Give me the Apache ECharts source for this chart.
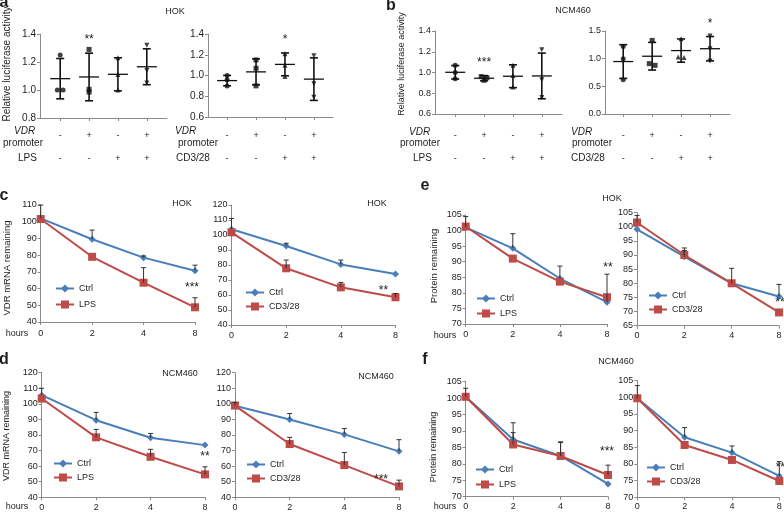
<!DOCTYPE html>
<html><head><meta charset="utf-8">
<script src="https://cdn.jsdelivr.net/npm/echarts@6/dist/echarts.min.js"></script>
<style>html,body{margin:0;padding:0;background:#fff}#c{width:784px;height:512px}</style>
</head><body><div id="c"></div><script>
// ---------- data ----------
const dotGroups = [0, 1, 2, 3];
const vdrSigns = ['-', '+', '-', '+'];
const stimSigns = ['-', '-', '+', '+'];

// a: HOK luciferase (LPS / CD3/28)
const aLpsPts = [[1.25, 1.0, 1.0], [1.29, 1.005, 0.985], [1.23, 1.11, 1.0], [1.32, 1.14, 1.05]];
const aLpsMean = [1.081, 1.093, 1.112, 1.166];
const aLpsSd = [0.144, 0.17, 0.118, 0.128];
const aLpsStars = ['', '**', '', ''];
const aCdPts = [[1.0, 0.96, 0.9], [1.15, 1.07, 0.9], [1.21, 1.1, 0.99], [1.19, 0.92, 0.79]];
const aCdMean = [0.951, 1.035, 1.107, 0.965];
const aCdSd = [0.05, 0.125, 0.11, 0.205];
const aCdStars = ['', '', '*', ''];
// b: NCM460 luciferase
const bLpsPts = [[1.07, 1.0, 0.94], [0.96, 0.95, 0.925], [1.07, 0.97, 0.86], [1.22, 0.93, 0.76]];
const bLpsMean = [1.002, 0.945, 0.964, 0.967];
const bLpsSd = [0.065, 0.025, 0.11, 0.22];
const bLpsStars = ['', '***', '', ''];
const bCdPts = [[1.22, 1.0, 0.62], [1.33, 0.91, 0.88], [1.36, 1.03, 1.02], [1.41, 1.18, 0.96]];
const bCdMean = [0.948, 1.044, 1.146, 1.18];
const bCdSd = [0.305, 0.25, 0.21, 0.22];
const bCdStars = ['', '', '', '*'];

const hours = ['0', '2', '4', '8'];
// c: HOK VDR mRNA
const cLpsCtrl = [102, 89.5, 78.5, 70.7];
const cLpsCtrlHi = [110, 95, 79.5, 74];
const cLps = [101.6, 79, 63.5, 48.8];
const cLpsHi = [null, null, 72.5, 54.5];
const cCdCtrl = [103.8, 92.7, 80.4, 74];
const cCdCtrlHi = [111, 94.5, 83.3, null];
const cCd = [101.8, 77.8, 65.1, 58.5];
const cCdHi = [null, 83.3, 68.4, 61];
// d: NCM460 VDR mRNA
const dLpsCtrl = [105.6, 89.5, 78.2, 73.5];
const dLpsCtrlHi = [110, 94.5, 81, null];
const dLps = [103.4, 78.5, 66, 54.7];
const dLpsHi = [null, 83.6, 70.8, 59.6];
const dCdCtrl = [98.8, 90, 80.4, 69.5];
const dCdCtrlHi = [101, 93.8, 84.2, 77];
const dCd = [98.9, 74.2, 60.7, 47];
const dCdHi = [null, 78.5, 68.8, 51];
// e: HOK protein
const eLpsCtrl = [101, 94.3, 84.6, 77];
const eLpsCtrlHi = [104.5, 99, 88.6, 86];
const eLps = [101.3, 91, 83.6, 78.6];
const eLpsHi = [null, null, null, null];
const eCdCtrl = [99.1, 89.4, 80, 75.3];
const eCdCtrlHi = [null, 91.6, 85.3, 79.6];
const eCd = [101.5, 90, 80, 69.7];
const eCdHi = [104, 92.5, null, null];
// f: NCM460 protein
const fLpsCtrl = [100.4, 87.4, 82.4, 73.9];
const fLpsCtrlHi = [103, 92.5, 86.7, null];
const fLps = [100.4, 85.9, 82.4, 76.6];
const fLpsHi = [null, 89.5, 86.5, 79.6];
const fCdCtrl = [99.7, 88, 83.4, 76.4];
const fCdCtrlHi = [103.5, 90.9, 85.4, 80.7];
const fCd = [99.7, 85.7, 81.2, 74.9];
const fCdHi = [null, null, null, null];

// ---------- drawing ----------
const FONT = 'Liberation Sans, Arial, sans-serif';
const TXT = '#1e1e1e', AX = '#8a8a8a', BLUE = '#4a7ebb', RED = '#be4b48';
const SHAPES = ['circle', 'rect', 'triangle', 'path://M0,0L10,0L5,9Z'];
const grids = [], xAxes = [], yAxes = [], series = [], legends = [], graphics = [];

function jitter(g, tol) {
  const off = g.map(() => 0);
  for (let i = 0; i < g.length; i++) for (let j = i + 1; j < g.length; j++)
    if (Math.abs(g[i] - g[j]) < tol && off[i] === 0 && off[j] === 0) { off[i] = -0.1; off[j] = 0.1; }
  return off;
}

function addDot(o) {
  const gi = grids.length;
  grids.push({ left: o.left, top: o.top, width: o.width, height: o.height, outerBoundsMode: 'none' });
  xAxes.push({ gridIndex: gi, type: 'value', min: o.xmin, max: o.xmax, splitLine: { show: false },
    axisLine: { show: true, onZero: false, lineStyle: { color: AX } },
    axisTick: { show: true, length: 3, customValues: dotGroups, lineStyle: { color: AX } },
    axisLabel: { customValues: dotGroups, fontSize: 9, color: TXT, fontFamily: FONT, lineHeight: 23, margin: o.lm,
      formatter: v => { const i = Math.round(v); return vdrSigns[i] + '\n' + stimSigns[i]; } } });
  yAxes.push({ gridIndex: gi, type: 'value', min: o.ymin, max: o.ymax, interval: o.int, splitLine: { show: false },
    axisLine: { show: true, onZero: false, lineStyle: { color: AX } },
    axisTick: { show: true, length: 3, lineStyle: { color: AX } },
    axisLabel: { fontSize: o.fs, color: TXT, fontFamily: FONT, margin: 4, formatter: v => v.toFixed(1) } });
  const pts = [];
  o.pts.forEach((g, k) => { const off = jitter(g, (o.ymax - o.ymin) * 0.03); g.forEach((v, m) => pts.push([k + off[m], v, k])); });
  series.push({ type: 'scatter', xAxisIndex: gi, yAxisIndex: gi, data: pts, symbol: val => SHAPES[val[2]],
    symbolSize: 5, itemStyle: { color: '#111' }, z: 3, silent: true });
  const bars = o.mean.map((m, i) => [i, m, o.sd[i]]);
  series.push({ type: 'custom', xAxisIndex: gi, yAxisIndex: gi, data: bars, z: 4, silent: true, encode: { x: 0, y: 1 },
    renderItem: (p, api) => {
      const x = api.value(0), m = api.value(1), s = api.value(2);
      const pm = api.coord([x, m]), ph = api.coord([x, m + s]), pl = api.coord([x, m - s]);
      const st = { stroke: '#111', lineWidth: 1.6 };
      return { type: 'group', children: [
        { type: 'line', shape: { x1: pm[0] - 10, y1: pm[1], x2: pm[0] + 10, y2: pm[1] }, style: { stroke: '#111', lineWidth: 1.3 } },
        { type: 'line', shape: { x1: ph[0], y1: ph[1], x2: pl[0], y2: pl[1] }, style: st },
        { type: 'line', shape: { x1: ph[0] - 4, y1: ph[1], x2: ph[0] + 4, y2: ph[1] }, style: st },
        { type: 'line', shape: { x1: pl[0] - 4, y1: pl[1], x2: pl[0] + 4, y2: pl[1] }, style: st },
        { type: 'text', x: ph[0], y: ph[1] - 13, style: { text: o.stars[p.dataIndex], fill: '#222', font: '12px ' + FONT, align: 'center', verticalAlign: 'middle' } }
      ] };
    } });
}

function addLine(o) {
  const gi = grids.length;
  grids.push({ left: o.left, top: o.top, width: o.width, height: o.height, outerBoundsMode: 'none' });
  xAxes.push({ gridIndex: gi, type: 'category', data: hours, boundaryGap: false, splitLine: { show: false },
    axisLine: { show: true, lineStyle: { color: AX } },
    axisTick: { show: true, length: 3, lineStyle: { color: AX } },
    axisLabel: { fontSize: 9, color: TXT, fontFamily: FONT, margin: o.xm } });
  yAxes.push({ gridIndex: gi, type: 'value', min: o.ymin, max: o.ymax, interval: o.int, splitLine: { show: false },
    axisLine: { show: true, lineStyle: { color: AX } },
    axisTick: { show: true, length: 3, lineStyle: { color: AX } },
    axisLabel: { fontSize: 9, color: TXT, fontFamily: FONT, margin: 4 } });
  series.push({ type: 'line', name: 'Ctrl', xAxisIndex: gi, yAxisIndex: gi, data: o.ctrl, symbol: 'diamond', symbolSize: 7,
    itemStyle: { color: BLUE }, lineStyle: { color: BLUE, width: 2 }, z: 3, silent: true });
  series.push({ type: 'line', name: o.trtName, xAxisIndex: gi, yAxisIndex: gi, data: o.trt, symbol: 'rect', symbolSize: 8,
    itemStyle: { color: RED }, lineStyle: { color: RED, width: 2 }, z: 3, silent: true });
  const err = [];
  [[o.ctrl, o.ctrlHi], [o.trt, o.trtHi]].forEach(([arr, hi]) => arr.forEach((v, i) => { if (hi[i] != null) err.push([i, v, hi[i]]); }));
  series.push({ type: 'custom', xAxisIndex: gi, yAxisIndex: gi, data: err, z: 4, silent: true, encode: { x: 0, y: 1 },
    renderItem: (p, api) => {
      const a = api.coord([api.value(0), api.value(1)]), b = api.coord([api.value(0), api.value(2)]);
      const st = { stroke: '#333', lineWidth: 1 };
      return { type: 'group', children: [
        { type: 'line', shape: { x1: a[0], y1: a[1], x2: b[0], y2: b[1] }, style: st },
        { type: 'line', shape: { x1: b[0] - 2.5, y1: b[1], x2: b[0] + 2.5, y2: b[1] }, style: st }] };
    } });
  series.push({ type: 'custom', xAxisIndex: gi, yAxisIndex: gi, data: [[3, o.starVal]], z: 5, silent: true, encode: { x: 0, y: 1 },
    renderItem: (p, api) => {
      const c = api.coord([api.value(0), api.value(1)]);
      return { type: 'text', x: c[0] + o.starDx, y: c[1], style: { text: o.star, fill: '#222', font: '12px ' + FONT, align: 'center', verticalAlign: 'middle' } };
    } });
  legends.push({ left: o.lgLeft - 2, top: o.lgTop, orient: 'vertical', itemWidth: 18, itemHeight: 10, itemGap: o.lgGap, padding: 0,
    data: ['Ctrl', o.trtName], selectedMode: false, textStyle: { fontSize: 9, color: TXT, fontFamily: FONT } });
}

function txt(x, y, text, opt) {
  opt = opt || {};
  graphics.push({ type: 'text', x: x, y: y, rotation: opt.rot || 0, silent: true,
    style: { text: text, fill: TXT, align: opt.align || 'center', verticalAlign: 'middle',
      font: (opt.italic ? 'italic ' : '') + (opt.bold ? 'bold ' : '') + (opt.size || 9) + 'px ' + FONT } });
}

// dot plots
addDot({ left: 40, top: 34, width: 127, height: 84, xmin: -0.7, xmax: 3.7, ymin: 0.8, ymax: 1.4, int: 0.2, fs: 10, lm: 6.5,
  pts: aLpsPts, mean: aLpsMean, sd: aLpsSd, stars: aLpsStars });
addDot({ left: 208, top: 34, width: 125, height: 83, xmin: -0.66, xmax: 3.66, ymin: 0.6, ymax: 1.4, int: 0.2, fs: 10, lm: 7,
  pts: aCdPts, mean: aCdMean, sd: aCdSd, stars: aCdStars });
addDot({ left: 435, top: 31, width: 127, height: 83, xmin: -0.7, xmax: 3.7, ymin: 0.6, ymax: 1.4, int: 0.2, fs: 9, lm: 10.5,
  pts: bLpsPts, mean: bLpsMean, sd: bLpsSd, stars: bLpsStars });
addDot({ left: 605, top: 31, width: 125, height: 83, xmin: -0.63, xmax: 3.69, ymin: 0, ymax: 1.5, int: 0.5, fs: 9, lm: 10.5,
  pts: bCdPts, mean: bCdMean, sd: bCdSd, stars: bCdStars });

// line charts
addLine({ left: 40.7, top: 205, width: 154.3, height: 117, ymin: 40, ymax: 110, int: 10, xm: 7,
  ctrl: cLpsCtrl, ctrlHi: cLpsCtrlHi, trt: cLps, trtHi: cLpsHi, trtName: 'LPS', star: '***', starVal: 60.8, starDx: -3,
  lgLeft: 57, lgTop: 284, lgGap: 7 });
addLine({ left: 231.5, top: 205, width: 164, height: 120, ymin: 40, ymax: 120, int: 10, xm: 6,
  ctrl: cCdCtrl, ctrlHi: cCdCtrlHi, trt: cCd, trtHi: cCdHi, trtName: 'CD3/28', star: '**', starVal: 63, starDx: -12,
  lgLeft: 247, lgTop: 288, lgGap: 5 });
addLine({ left: 41.7, top: 372.7, width: 163.3, height: 124.6, ymin: 40, ymax: 120, int: 10, xm: 5.5,
  ctrl: dLpsCtrl, ctrlHi: dLpsCtrlHi, trt: dLps, trtHi: dLpsHi, trtName: 'LPS', star: '**', starVal: 65.8, starDx: 0,
  lgLeft: 55, lgTop: 459, lgGap: 5 });
addLine({ left: 235, top: 372.7, width: 164, height: 124.6, ymin: 40, ymax: 120, int: 10, xm: 5.5,
  ctrl: dCdCtrl, ctrlHi: dCdCtrlHi, trt: dCd, trtHi: dCdHi, trtName: 'CD3/28', star: '***', starVal: 51, starDx: -18,
  lgLeft: 248, lgTop: 460, lgGap: 5 });
addLine({ left: 465.7, top: 215, width: 141.3, height: 109, ymin: 70, ymax: 105, int: 5, xm: 6.5,
  ctrl: eLpsCtrl, ctrlHi: eLpsCtrlHi, trt: eLps, trtHi: eLpsHi, trtName: 'LPS', star: '**', starVal: 88, starDx: 1,
  lgLeft: 478, lgTop: 294, lgGap: 6 });
addLine({ left: 637, top: 212.6, width: 142, height: 113.1, ymin: 65, ymax: 105, int: 5, xm: 5,
  ctrl: eCdCtrl, ctrlHi: eCdCtrlHi, trt: eCd, trtHi: eCdHi, trtName: 'CD3/28', star: '**', starVal: 73, starDx: 1,
  lgLeft: 650, lgTop: 291, lgGap: 5 });
addLine({ left: 465.7, top: 381.7, width: 142.3, height: 115, ymin: 70, ymax: 105, int: 5, xm: 5,
  ctrl: fLpsCtrl, ctrlHi: fLpsCtrlHi, trt: fLps, trtHi: fLpsHi, trtName: 'LPS', star: '***', starVal: 83.6, starDx: -1,
  lgLeft: 477, lgTop: 465, lgGap: 6 });
addLine({ left: 637.3, top: 380.6, width: 142, height: 116.7, ymin: 70, ymax: 105, int: 5, xm: 5,
  ctrl: fCdCtrl, ctrlHi: fCdCtrlHi, trt: fCd, trtHi: fCdHi, trtName: 'CD3/28', star: '**', starVal: 78.8, starDx: 1,
  lgLeft: 648, lgTop: 463, lgGap: 5 });

// panel letters
txt(4, 3, 'a', { bold: true, size: 16 });
txt(391, 6, 'b', { bold: true, size: 16 });
txt(4, 196, 'c', { bold: true, size: 16 });
txt(4, 360, 'd', { bold: true, size: 16 });
txt(425, 186, 'e', { bold: true, size: 16 });
txt(425, 360, 'f', { bold: true, size: 16 });
// titles
txt(175, 12, 'HOK');
txt(573, 11, 'NCM460');
txt(182, 204, 'HOK');
txt(377, 204, 'HOK');
txt(180, 374, 'NCM460');
txt(376, 377, 'NCM460');
txt(612, 199, 'HOK');
txt(616, 362, 'NCM460');
// axis titles
txt(7, 64, 'Relative luciferase activity', { rot: Math.PI / 2, size: 10 });
txt(402, 64, 'Relative luciferase activity', { rot: Math.PI / 2, size: 9 });
txt(7, 268, 'VDR mRNA remaining', { rot: Math.PI / 2, size: 9.5 });
txt(7, 436, 'VDR mRNA remaining', { rot: Math.PI / 2, size: 9 });
txt(434, 266, 'Protein remaining', { rot: Math.PI / 2, size: 9.5 });
txt(434, 447, 'Protein remaining', { rot: Math.PI / 2, size: 9 });
txt(17, 334, 'hours'); txt(17, 507, 'hours'); txt(445, 336, 'hours'); txt(445, 507, 'hours');
// row labels of dot plots
txt(14, 131, 'VDR', { italic: true, align: 'left', size: 10 });
txt(3, 143, 'promoter', { align: 'left', size: 10 });
txt(18, 158, 'LPS', { align: 'left', size: 10 });
txt(175, 131, 'VDR', { italic: true, align: 'left', size: 10 });
txt(178, 143, 'promoter', { align: 'left', size: 10 });
txt(176, 158, 'CD3/28', { align: 'left', size: 10 });
txt(409, 132, 'VDR', { italic: true, align: 'left', size: 10 });
txt(400, 143, 'promoter', { align: 'left', size: 10 });
txt(413, 158, 'LPS', { align: 'left', size: 10 });
txt(571, 132, 'VDR', { italic: true, align: 'left', size: 10 });
txt(572, 143, 'promoter', { align: 'left', size: 10 });
txt(571, 158, 'CD3/28', { align: 'left', size: 10 });

const chart = echarts.init(document.getElementById('c'));
chart.setOption({ animation: false, backgroundColor: '#fff', grid: grids, xAxis: xAxes, yAxis: yAxes,
  series: series, legend: legends, graphic: { elements: graphics } });
</script></body></html>
